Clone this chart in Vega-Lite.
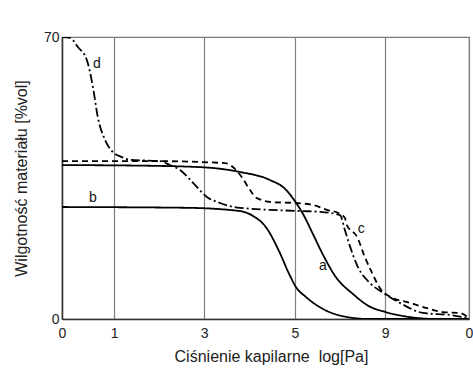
{
  "$schema": "https://vega.github.io/schema/vega-lite/v6.json",
  "width": 407,
  "height": 282,
  "autosize": "none",
  "padding": {"left": 62, "top": 37, "right": 4, "bottom": 49},
  "background": "white",
  "config": {
    "font": "Liberation Sans",
    "view": {"stroke": "#777777", "strokeWidth": 1.2},
    "axis": {"labelFont": "Liberation Sans", "titleFont": "Liberation Sans", "labelColor": "#222222", "titleColor": "#222222", "titleFontWeight": "normal", "labelFontSize": 14, "titleFontSize": 16}
  },
  "datasets": {
    "curves": [
      {"s": "a", "x": 0, "y": 38.2}, {"s": "a", "x": 1.67, "y": 38.1}, {"s": "a", "x": 3.39, "y": 37.7}, {"s": "a", "x": 4.37, "y": 36.5}, {"s": "a", "x": 5.11, "y": 34.5}, {"s": "a", "x": 5.48, "y": 32.3}, {"s": "a", "x": 5.72, "y": 29.3}, {"s": "a", "x": 5.92, "y": 26.1}, {"s": "a", "x": 6.17, "y": 21.0}, {"s": "a", "x": 6.41, "y": 16.0}, {"s": "a", "x": 6.73, "y": 10.4}, {"s": "a", "x": 7.15, "y": 6.2}, {"s": "a", "x": 7.54, "y": 3.2}, {"s": "a", "x": 7.96, "y": 1.7}, {"s": "a", "x": 8.53, "y": 0.5}, {"s": "a", "x": 9.19, "y": 0}, {"s": "a", "x": 10, "y": 0},
      {"s": "b", "x": 0, "y": 27.8}, {"s": "b", "x": 3.07, "y": 27.6}, {"s": "b", "x": 4.37, "y": 26.8}, {"s": "b", "x": 4.69, "y": 25.6}, {"s": "b", "x": 5.01, "y": 22.8}, {"s": "b", "x": 5.33, "y": 16.9}, {"s": "b", "x": 5.58, "y": 11.2}, {"s": "b", "x": 5.75, "y": 7.9}, {"s": "b", "x": 5.99, "y": 5.5}, {"s": "b", "x": 6.41, "y": 2.5}, {"s": "b", "x": 6.9, "y": 0.7}, {"s": "b", "x": 7.54, "y": 0}, {"s": "b", "x": 10, "y": 0},
      {"s": "c", "x": 0, "y": 39.2}, {"s": "c", "x": 2.16, "y": 39.2}, {"s": "c", "x": 4.0, "y": 38.7}, {"s": "c", "x": 4.42, "y": 35.2}, {"s": "c", "x": 4.62, "y": 32.0}, {"s": "c", "x": 4.79, "y": 30.0}, {"s": "c", "x": 5.18, "y": 29.0}, {"s": "c", "x": 5.72, "y": 28.8}, {"s": "c", "x": 6.17, "y": 28.3}, {"s": "c", "x": 6.51, "y": 27.1}, {"s": "c", "x": 6.83, "y": 26.1}, {"s": "c", "x": 6.95, "y": 25.1}, {"s": "c", "x": 7.0, "y": 23.3}, {"s": "c", "x": 7.25, "y": 20.4}, {"s": "c", "x": 7.44, "y": 15.4}, {"s": "c", "x": 7.62, "y": 11.4}, {"s": "c", "x": 7.81, "y": 7.7}, {"s": "c", "x": 8.06, "y": 5.5}, {"s": "c", "x": 8.48, "y": 4.2}, {"s": "c", "x": 8.97, "y": 2.7}, {"s": "c", "x": 9.36, "y": 1.7}, {"s": "c", "x": 9.78, "y": 1.5}, {"s": "c", "x": 10, "y": 0.2},
      {"s": "d", "x": 0, "y": 70}, {"s": "d", "x": 0.2, "y": 69.8}, {"s": "d", "x": 0.39, "y": 67.5}, {"s": "d", "x": 0.61, "y": 64.3}, {"s": "d", "x": 0.76, "y": 57.6}, {"s": "d", "x": 0.88, "y": 50.1}, {"s": "d", "x": 1.06, "y": 44.4}, {"s": "d", "x": 1.25, "y": 41.4}, {"s": "d", "x": 1.47, "y": 40.2}, {"s": "d", "x": 1.67, "y": 39.5}, {"s": "d", "x": 2.41, "y": 39.2}, {"s": "d", "x": 2.65, "y": 38.2}, {"s": "d", "x": 2.9, "y": 37.0}, {"s": "d", "x": 3.22, "y": 33.8}, {"s": "d", "x": 3.56, "y": 30.3}, {"s": "d", "x": 3.88, "y": 28.8}, {"s": "d", "x": 4.37, "y": 27.6}, {"s": "d", "x": 5.85, "y": 26.8}, {"s": "d", "x": 6.34, "y": 26.6}, {"s": "d", "x": 6.83, "y": 25.8}, {"s": "d", "x": 6.95, "y": 22.1}, {"s": "d", "x": 7.08, "y": 17.9}, {"s": "d", "x": 7.27, "y": 12.9}, {"s": "d", "x": 7.57, "y": 8.9}, {"s": "d", "x": 7.89, "y": 6.5}, {"s": "d", "x": 8.3, "y": 4.0}, {"s": "d", "x": 8.87, "y": 1.5}, {"s": "d", "x": 9.53, "y": 1.0}, {"s": "d", "x": 10, "y": 0.2}
    ],
    "labels": [
      {"t": "d", "x": 0.86, "y": 63.3},
      {"t": "b", "x": 0.76, "y": 30.0},
      {"t": "a", "x": 6.41, "y": 13.2},
      {"t": "c", "x": 7.35, "y": 22.3}
    ]
  },
  "layer": [
    {
      "data": {"name": "curves"},
      "mark": {"type": "line", "interpolate": "monotone", "color": "black", "strokeWidth": 1.8, "clip": true},
      "encoding": {
        "x": {"field": "x", "type": "quantitative", "scale": {"domain": [0, 10], "nice": false, "zero": false},
          "axis": {"title": "Ciśnienie kapilarne \u00a0log[Pa]", "titleX": 209, "values": [0, 1.28, 3.49, 5.72, 7.94, 10], "labelExpr": "datum.value < 0.5 ? '0' : datum.value < 2 ? '1' : datum.value < 4 ? '3' : datum.value < 6 ? '5' : datum.value < 9 ? '9' : '0'", "ticks": false, "labelPadding": 7, "titlePadding": 8, "grid": true, "gridColor": "#808080", "gridOpacity": 1, "gridWidth": 1.2, "domainColor": "#333333", "domainWidth": 1.5, "labelFlush": false, "labelOverlap": false}},
        "y": {"field": "y", "type": "quantitative", "scale": {"domain": [0, 70], "nice": false},
          "axis": {"title": "Wilgotność materiału [%vol]", "values": [0, 70], "ticks": false, "grid": false, "labelPadding": 3, "titlePadding": 14, "domainColor": "#333333", "domainWidth": 1.5, "labelFlush": false}},
        "detail": {"field": "s"},
        "strokeDash": {"field": "s", "type": "nominal", "scale": {"domain": ["a", "b", "c", "d"], "range": [[1, 0], [1, 0], [6, 4], [9, 3, 2, 3]]}, "legend": null}
      }
    },
    {
      "data": {"name": "labels"},
      "mark": {"type": "text", "fontSize": 14, "color": "#111111", "font": "Liberation Sans"},
      "encoding": {
        "x": {"field": "x", "type": "quantitative"},
        "y": {"field": "y", "type": "quantitative"},
        "text": {"field": "t"}
      }
    }
  ]
}
